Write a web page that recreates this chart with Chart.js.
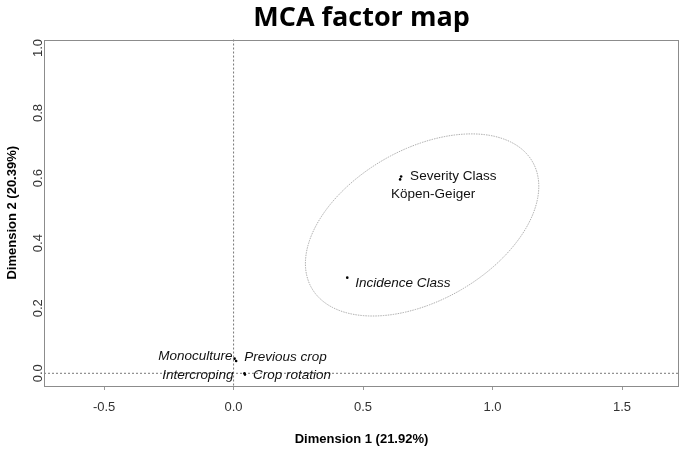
<!DOCTYPE html>
<html>
<head>
<meta charset="utf-8">
<script src="https://cdn.jsdelivr.net/npm/chart.js@4"></script>
<style>
  html, body { margin: 0; padding: 0; background: #ffffff; }
  #wrap { width: 685px; height: 450px; }
</style>
</head>
<body>
<div id="wrap"><canvas id="c" width="685" height="450"></canvas></div>
<script>
// ---- data ----
const categories = ["Severity Class", "Köpen-Geiger", "Incidence Class", "Monoculture", "Previous crop", "Intercroping", "Crop rotation"];
const dim1Values = [0.647, 0.643, 0.439, 0.004, 0.010, 0.042, 0.044];
const dim2Values = [0.605, 0.596, 0.294, 0.045, 0.038, 0.000, -0.004];
const isSupplementary = [false, false, true, true, true, true, true];
const xTickValues = [-0.5, 0.0, 0.5, 1.0, 1.5];
const yTickValues = [0.0, 0.2, 0.4, 0.6, 0.8, 1.0];
const xRange = [-0.732, 1.72];
const yRange = [-0.039, 1.026];
// confidence ellipse (data units): centre, semi-axes, rotation in degrees
const ellipseCenter = [0.728, 0.456];
const ellipseSemiAxes = [0.472, 0.242];
const ellipseAngleDeg = [20.3];
const titleText = "MCA factor map";
const xAxisTitle = "Dimension 1 (21.92%)";
const yAxisTitle = "Dimension 2 (20.39%)";

// ---- styles (pixel offsets for labels) ----
const labelStyle = [
  { dx: 9,   dy: 0,  align: "left"  },
  { dx: -9,  dy: 15, align: "left"  },
  { dx: 8,   dy: 6,  align: "left"  },
  { dx: -2,  dy: -2, align: "right" },
  { dx: 8,   dy: -4, align: "left"  },
  { dx: -11, dy: 2,  align: "right" },
  { dx: 8,   dy: 1,  align: "left"  }
];

const pts = categories.map((c, i) => ({ x: dim1Values[i], y: dim2Values[i] }));

const decorPlugin = {
  id: "decor",
  beforeDatasetsDraw(chart) {
    const { ctx, chartArea: a, scales: { x, y } } = chart;
    ctx.save();
    ctx.strokeStyle = "#555555";
    ctx.lineWidth = 0.8;
    ctx.setLineDash([2, 2]);
    const x0 = x.getPixelForValue(0), y0 = y.getPixelForValue(0);
    ctx.beginPath();
    ctx.moveTo(x0, a.top); ctx.lineTo(x0, a.bottom);
    ctx.moveTo(a.left, y0); ctx.lineTo(a.right, y0);
    ctx.stroke();
    ctx.strokeStyle = "#9a9a9a";
    ctx.lineWidth = 0.8;
    ctx.setLineDash([1.5, 1]);
    const th = ellipseAngleDeg[0] * Math.PI / 180;
    ctx.beginPath();
    for (let k = 0; k <= 360; k++) {
      const t = k * Math.PI / 180;
      const ex = ellipseSemiAxes[0] * Math.cos(t), ey = ellipseSemiAxes[1] * Math.sin(t);
      const dx = ellipseCenter[0] + ex * Math.cos(th) - ey * Math.sin(th);
      const dy = ellipseCenter[1] + ex * Math.sin(th) + ey * Math.cos(th);
      const px = x.getPixelForValue(dx), py = y.getPixelForValue(dy);
      if (k === 0) ctx.moveTo(px, py); else ctx.lineTo(px, py);
    }
    ctx.closePath();
    ctx.stroke();
    ctx.restore();
  },
  afterDatasetsDraw(chart) {
    const { ctx, chartArea: a, scales: { x, y } } = chart;
    ctx.save();
    ctx.setLineDash([]);
    ctx.strokeStyle = "#8c8c8c";
    ctx.lineWidth = 1;
    ctx.strokeRect(Math.round(a.left) + 0.5, Math.round(a.top) + 0.5, Math.round(a.right - a.left) - 1, Math.round(a.bottom - a.top) - 1);
    ctx.fillStyle = "#111111";
    ctx.textBaseline = "middle";
    categories.forEach((c, i) => {
      const px = x.getPixelForValue(dim1Values[i]);
      const py = y.getPixelForValue(dim2Values[i]);
      const s = labelStyle[i];
      ctx.font = (isSupplementary[i] ? "italic " : "") + "13.5px 'Liberation Sans', Arial, sans-serif";
      ctx.textAlign = s.align;
      ctx.fillText(c, px + s.dx, py + s.dy);
    });
    ctx.fillStyle = "#333333";
    ctx.font = "13px 'Liberation Sans', Arial, sans-serif";
    ctx.textAlign = "center";
    ctx.textBaseline = "middle";
    y.ticks.forEach(t => {
      const py = y.getPixelForValue(t.value);
      ctx.save();
      ctx.translate(a.left - 6, py);
      ctx.rotate(-Math.PI / 2);
      ctx.fillText(t.value.toFixed(1), 0, 0);
      ctx.restore();
    });
    ctx.restore();
  }
};

new Chart(document.getElementById("c"), {
  type: "scatter",
  data: {
    datasets: [{
      data: pts,
      pointRadius: 1.3,
      pointHoverRadius: 1.3,
      backgroundColor: "#000000",
      borderColor: "#000000",
      borderWidth: 0
    }]
  },
  options: {
    responsive: false,
    animation: false,
    layout: { padding: { left: 0, right: 6, top: 0, bottom: 0 } },
    plugins: {
      legend: { display: false },
      tooltip: { enabled: false },
      title: {
        display: true,
        text: titleText,
        fullSize: false,
        color: "#000000",
        font: { family: "Open Sans", size: 27, weight: "bold" },
        padding: { top: 2, bottom: 5.1 }
      }
    },
    scales: {
      x: {
        type: "linear",
        min: xRange[0], max: xRange[1],
        afterBuildTicks: s => { s.ticks = xTickValues.map(v => ({ value: v })); },
        afterFit: s => { s.height = 64; },
        ticks: {
          color: "#333333",
          font: { family: "Liberation Sans", size: 13 },
          padding: 10,
          maxRotation: 0,
          callback: v => v.toFixed(1)
        },
        grid: { display: true, drawOnChartArea: false, drawTicks: true, tickLength: 4, color: "#999999", tickColor: "#999999" },
        border: { display: false },
        title: {
          display: true,
          text: xAxisTitle,
          color: "#000000",
          font: { family: "Liberation Sans", size: 13, weight: "bold" },
          padding: { top: 0, bottom: 3 }
        }
      },
      y: {
        type: "linear",
        min: yRange[0], max: yRange[1],
        afterBuildTicks: s => { s.ticks = yTickValues.map(v => ({ value: v })); },
        afterFit: s => { s.width = 44; },
        ticks: { display: false },
        grid: { display: false },
        border: { display: false },
        title: {
          display: true,
          text: yAxisTitle,
          color: "#000000",
          font: { family: "Liberation Sans", size: 13, weight: "bold" },
          padding: { top: 4.7, bottom: 0 }
        }
      }
    }
  },
  plugins: [decorPlugin]
});
</script>
</body>
</html>
